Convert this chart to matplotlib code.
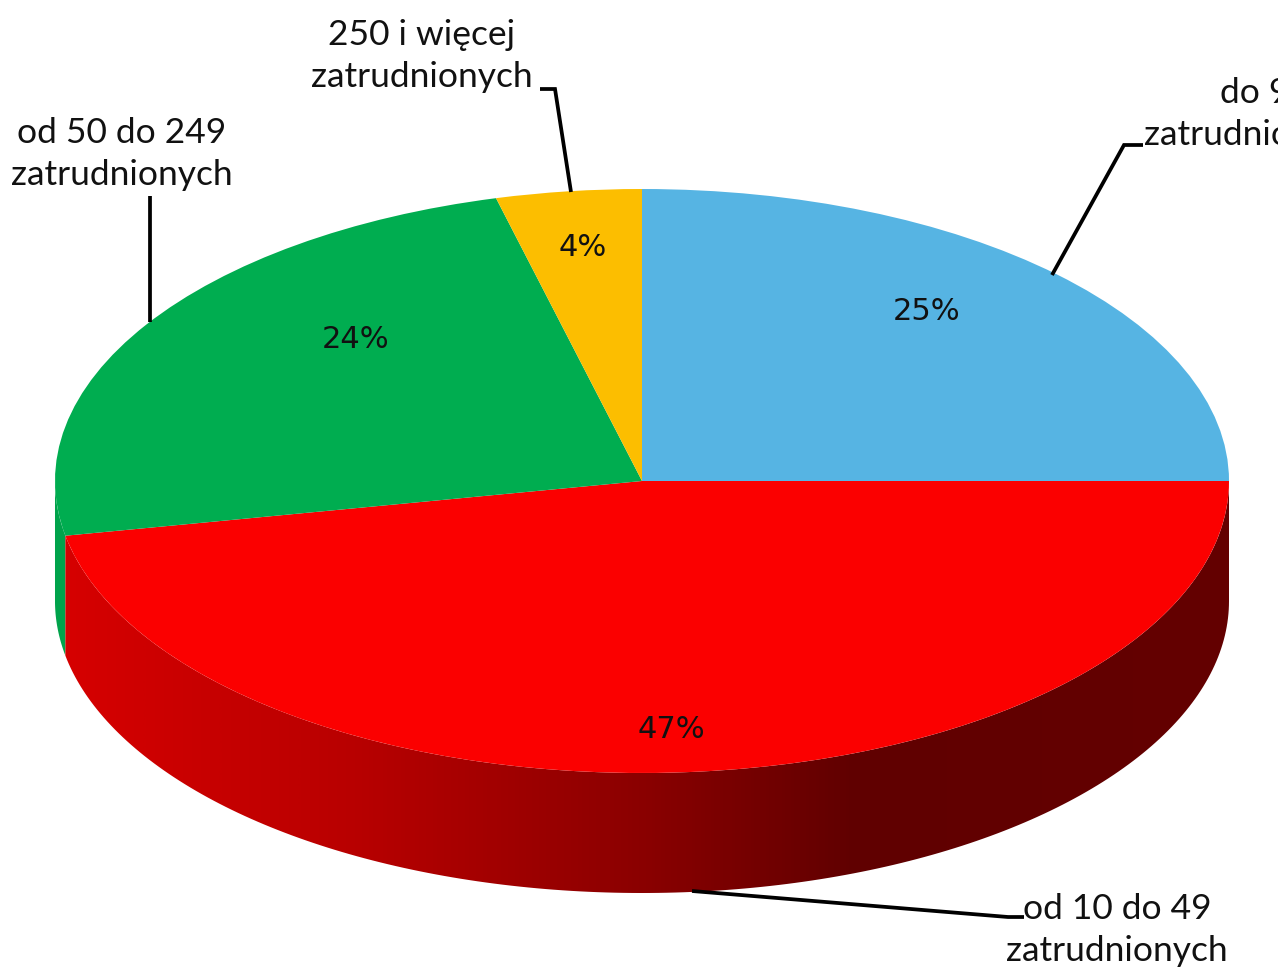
import numpy as np
import matplotlib.pyplot as plt
from matplotlib.colors import LinearSegmentedColormap
from matplotlib.patches import Polygon

plt.rcParams['font.family'] = ['Lato', 'DejaVu Sans']

W, H = 1278, 967
CX, CY = 642, 481
RX, RY = 587, 292
DEPTH = 120

categories = ['do 9\nzatrudnionych', 'od 10 do 49\nzatrudnionych',
              'od 50 do 249\nzatrudnionych', '250 i więcej\nzatrudnionych']
shares = [25, 47, 24, 4]
colors = ['#56B4E3', '#FB0000', '#00AD50', '#FCBE00']
pct_pos = [(927, 312), (671, 729), (356, 340), (583, 248)]
label_pos = [(1255, 114), (1117, 930), (122, 154), (422, 56)]
leaders = [[(1052, 275), (1124, 145), (1143, 145)],
           [(692, 891), (1008, 917), (1024, 917)],
           [(150, 322), (150, 196)],
           [(571, 192), (555, 89), (540, 89)]]

fig = plt.figure(figsize=(W / 100, H / 100), dpi=100)
ax = fig.add_axes([0, 0, 1, 1])

# pie drawn on a unit circle, squashed into an ellipse by the axis limits
wedges, _ = ax.pie(shares, colors=colors, startangle=90, counterclock=False, radius=1,
                   wedgeprops={'linewidth': 0})
for w in wedges:
    w.set_zorder(3)
ax.set_aspect('auto')
ax.set_xlim(-CX / RX, (W - CX) / RX)
ax.set_ylim(-(H - CY) / RY, CY / RY)

drop = DEPTH / RY


def wall_outline(a1, a2):
    t = np.radians(np.linspace(a1, a2, 200))
    x, y = np.cos(t), np.sin(t)
    return np.column_stack([np.r_[x, x[::-1]], np.r_[y, y[::-1] - drop]])


# clockwise from 12 o'clock, so the red slice ends below the horizontal
red_end = 90 - 3.6 * (shares[0] + shares[1])

# thin green side left of the red slice
ax.add_patch(Polygon(wall_outline(-180, red_end), closed=True, fc='#00A34B', ec='none', zorder=1))

# shaded side of the red slice
shade = LinearSegmentedColormap.from_list('side', [(0, '#D60000'), (0.25, '#B80000'),
                                                   (0.5, '#8A0000'), (0.68, '#600000'),
                                                   (1, '#640000')])
x_left = (63 - CX) / RX
im = ax.imshow(np.linspace(0, 1, 400)[None, :], cmap=shade, aspect='auto', zorder=2,
               extent=(x_left, 1, -1 - drop, 0), interpolation='bilinear')
clip = Polygon(wall_outline(red_end, 0), closed=True, transform=ax.transData)
im.set_clip_path(clip)
ax.set_xlim(-CX / RX, (W - CX) / RX)
ax.set_ylim(-(H - CY) / RY, CY / RY)
ax.axis('off')

# labels and leader lines are placed in pixel coordinates
tx = fig.add_axes([0, 0, 1, 1], facecolor='none')
tx.set_xlim(0, W)
tx.set_ylim(H, 0)
tx.axis('off')

for s, (px, py) in zip(shares, pct_pos):
    tx.text(px, py, f'{s}%', ha='center', va='center', fontsize=22, color='#111111',
            family='DejaVu Sans')
for name, (px, py) in zip(categories, label_pos):
    tx.text(px, py, name, ha='center', va='center', fontsize=25.5, color='#111111',
            linespacing=1.38, clip_on=False)
for pts in leaders:
    xs, ys = zip(*pts)
    tx.plot(xs, ys, color='black', lw=2.7, solid_joinstyle='miter', solid_capstyle='butt')

fig.savefig('out.png', dpi=100)
